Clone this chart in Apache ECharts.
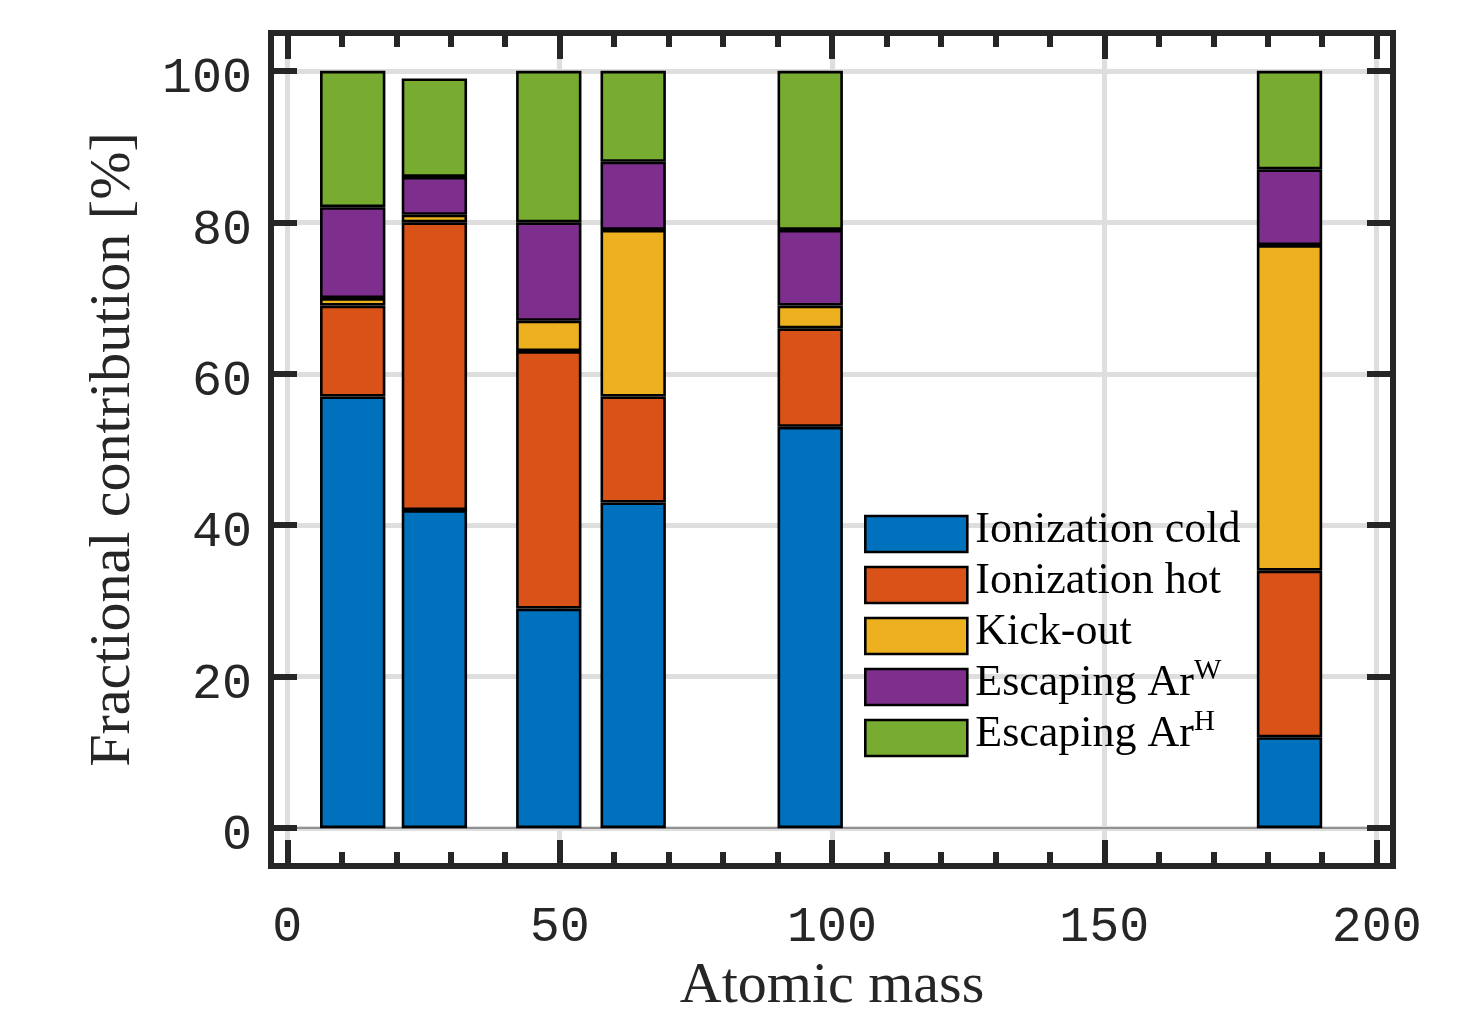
<!DOCTYPE html>
<html>
<head>
<meta charset="utf-8">
<script src="https://cdn.jsdelivr.net/npm/echarts@6/dist/echarts.min.js"></script>
<style>
html,body{margin:0;padding:0;background:#fff;}
#chart{width:1484px;height:1016px;}
</style>
</head>
<body>
<div id="chart"></div>
<script>
// ---- data ----
const masses = [12, 27, 48, 63.5, 96, 184];
const ionCold = [57, 42, 29, 43, 53, 12];
const ionHot = [12, 38, 34, 14, 13, 22];
const kickOut = [1, 1, 4, 22, 3, 43];
const escW = [12, 5, 13, 9, 10, 10];
const escH = [18, 13, 20, 12, 21, 13];
const seriesNames = ['Ionization cold', 'Ionization hot', 'Kick-out', 'Escaping ArW', 'Escaping ArH'];
const legendMain = ['Ionization cold', 'Ionization hot', 'Kick-out', 'Escaping Ar', 'Escaping Ar'];
const legendSup = [' ', ' ', ' ', 'W', 'H'];
const xTicks = [0, 50, 100, 150, 200];
const xMinorTicks = [0, 10, 20, 30, 40, 50, 60, 70, 80, 90, 100, 110, 120, 130, 140, 150, 160, 170, 180, 190, 200];
const yTicks = [0, 20, 40, 60, 80, 100];

// ---- styles ----
const colors = ['#0072BD', '#D95319', '#EDB120', '#7E2F8E', '#77AC30'];
const AX = '#262626';
const X_MIN = -3, X_MAX = 203, Y_MIN = -5, Y_MAX = 105;
const GRID = {left: 271, top: 33, width: 1122, height: 833};
const BAR_UNITS = 12;
const barWidthPx = BAR_UNITS * GRID.width / (X_MAX - X_MIN);

const chart = echarts.init(document.getElementById('chart'), null, {renderer: 'canvas'});

function xAx(pos, ticks, len, labels, extra) {
  return Object.assign({
    type: 'value', min: X_MIN, max: X_MAX, position: pos, z: 10,
    axisLine: {show: false, onZero: false},
    axisTick: {show: true, inside: true, length: len, customValues: ticks, lineStyle: {color: AX, width: 6}},
    axisLabel: {show: labels, customValues: ticks, margin: 37, fontFamily: 'Liberation Mono', fontSize: 50, color: AX},
    splitLine: {show: false}
  }, extra || {});
}
function yAx(pos, labels, extra) {
  return Object.assign({
    type: 'value', min: Y_MIN, max: Y_MAX, position: pos, z: 10,
    axisLine: {show: true, onZero: false, lineStyle: {color: AX, width: 6, cap: 'square'}},
    axisTick: {show: true, inside: true, length: 26, customValues: yTicks, lineStyle: {color: AX, width: 6}},
    axisLabel: {show: labels, customValues: yTicks, margin: 19,
      formatter: function (v) { return '{v|' + v + '}'; },
      rich: {v: {fontFamily: 'Liberation Mono', fontSize: 50, color: AX, padding: [16, 0, 0, 0]}},
      fontFamily: 'Liberation Mono', fontSize: 50, color: AX},
    splitLine: {show: false}
  }, extra || {});
}

const values = [ionCold, ionHot, kickOut, escW, escH];
// value first so that the y dimension is the stacked one; x taken from dimension 1
const barSeries = values.map((arr, k) => ({
  name: seriesNames[k],
  type: 'bar',
  stack: 'total',
  z: 3,
  barWidth: barWidthPx,
  xAxisIndex: 0, yAxisIndex: 0,
  encode: {x: 1, y: 0},
  itemStyle: {color: colors[k], borderColor: '#000', borderWidth: 2.6},
  data: masses.map((m, i) => [arr[i], m])
}));

const option = {
  animation: false,
  backgroundColor: '#fff',
  grid: {left: GRID.left, top: GRID.top, width: GRID.width, height: GRID.height,
    containLabel: false, outerBoundsMode: 'none'},
  legend: {
    orient: 'vertical', left: 864, top: 504, padding: 0, z: 6,
    itemWidth: 102, itemHeight: 36, itemGap: 1.7,
    icon: 'rect',
    itemStyle: {borderColor: '#000', borderWidth: 2.6},
    data: seriesNames,
    formatter: function (name) {
      const i = seriesNames.indexOf(name);
      return '{b|' + legendMain[i] + '}{s|' + legendSup[i] + '}';
    },
    textStyle: {
      color: '#000',
      rich: {
        b: {fontFamily: 'Liberation Serif', fontSize: 44, color: '#000', lineHeight: 36,
          verticalAlign: 'bottom', padding: [0, 0, 0, 3]},
        s: {fontFamily: 'Liberation Serif', fontSize: 29, color: '#000', lineHeight: 10,
          verticalAlign: 'bottom', padding: [0, 0, 19, 0]}
      }
    }
  },
  xAxis: [
    xAx('bottom', xTicks, 26, true, {
      axisLine: {show: true, onZero: false, lineStyle: {color: AX, width: 6, cap: 'square'}},
      name: 'Atomic mass', nameLocation: 'middle', nameGap: 89,
      nameTextStyle: {fontFamily: 'Liberation Serif', fontSize: 58, color: AX}
    }),
    xAx('bottom', xMinorTicks, 14, false),
    xAx('top', xTicks, 26, false, {
      axisLine: {show: true, onZero: false, lineStyle: {color: AX, width: 6, cap: 'square'}}
    }),
    xAx('top', xMinorTicks, 14, false)
  ],
  yAxis: [
    yAx('left', true, {
      name: 'Fractional contribution [%]', nameLocation: 'middle', nameGap: 128, nameRotate: 90,
      nameTextStyle: {fontFamily: 'Liberation Serif', fontSize: 58, color: AX}
    }),
    yAx('right', false)
  ],
  series: [
    {
      type: 'scatter', name: 'gridlines', data: [], z: 1, silent: true,
      xAxisIndex: 0, yAxisIndex: 0,
      markLine: {
        silent: true, symbol: ['none', 'none'], animation: false, z: 1,
        label: {show: false},
        lineStyle: {color: '#dedede', width: 5, type: 'solid'},
        data: xTicks.map(v => ({xAxis: v})).concat(yTicks.map(v => ({yAxis: v})))
      }
    },
    {
      type: 'scatter', name: 'baseline', data: [], z: 2, silent: true,
      xAxisIndex: 0, yAxisIndex: 0,
      markLine: {
        silent: true, symbol: ['none', 'none'], animation: false, z: 2,
        label: {show: false},
        lineStyle: {color: '#777777', width: 1.5, type: 'solid'},
        data: [{yAxis: 0}]
      }
    }
  ].concat(barSeries)
};

chart.setOption(option);
</script>
</body>
</html>
